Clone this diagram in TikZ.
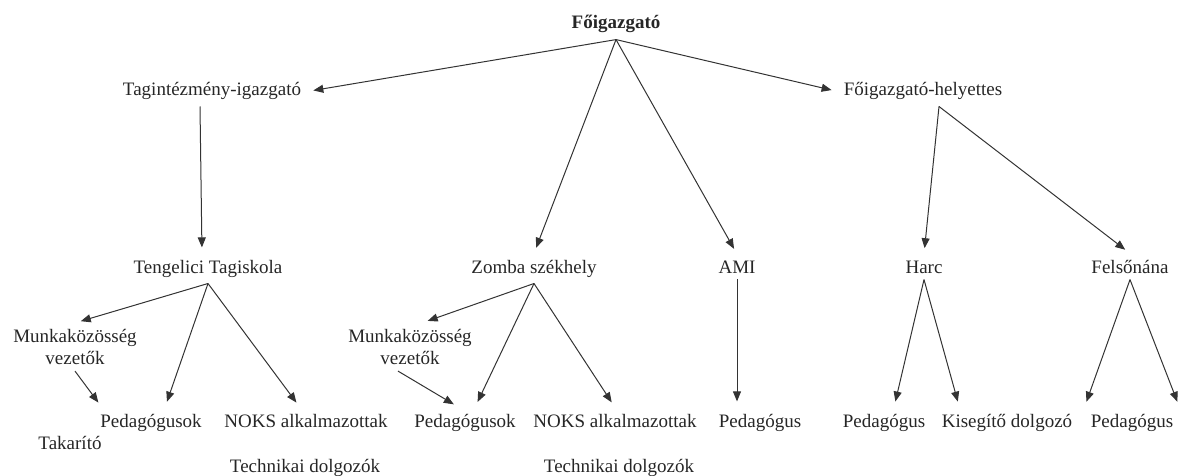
\documentclass[tikz,border=0pt]{standalone}
\usepackage{fontspec}
\setmainfont{Liberation Serif}
\usetikzlibrary{arrows.meta}

\begin{document}
\begin{tikzpicture}[x=0.5pt,y=-0.5pt,
  lbl/.style={inner sep=3pt, anchor=base, text=black!85, font=\fontsize{9.5}{11}\selectfont},
  arr/.style={line width=0.5pt, black!80, -{Triangle[length=5pt,width=4pt]}, shorten >=3pt}]
\useasboundingbox (0,0) rectangle (1184,476);
\begin{scope}[every node/.style={lbl}]
 \node[font=\fontsize{9.5}{11}\selectfont\bfseries] (fo) at (616,29) {Főigazgató};
 \node (tag) at (212,96) {Tagintézmény-igazgató};
 \node (fh) at (923,96) {Főigazgató-helyettes};

 \node (teng) at (208,273) {Tengelici Tagiskola};
 \node (zomba) at (534,273) {Zomba székhely};
 \node (ami) at (737,273) {AMI};
 \node (harc) at (924,273) {Harc};
 \node (fel) at (1130,273) {Felsőnána};

 \node[anchor=center, align=center] (mk1) at (75,347) {Munkaközösség\\vezetők};
 \node[anchor=center, align=center] (mk2) at (410,347) {Munkaközösség\\vezetők};

 \node (ped1) at (151,427) {Pedagógusok};
 \node (noks1) at (306,427) {NOKS alkalmazottak};
 \node (tak) at (70,449) {Takarító};
 \node (tech1) at (305,472) {Technikai dolgozók};

 \node (ped2) at (465,427) {Pedagógusok};
 \node (noks2) at (615,427) {NOKS alkalmazottak};
 \node (tech2) at (619,472) {Technikai dolgozók};

 \node (ped3) at (760,427) {Pedagógus};
 \node (ped4) at (884,427) {Pedagógus};
 \node (kis) at (1007,427) {Kisegítő dolgozó};
 \node (ped5) at (1132,427) {Pedagógus};


\draw[arr] (fo.south) -- (tag.east);
\draw[arr] (fo.south) -- (zomba.north);
\draw[arr] (fo.south) -- (ami.north);
\draw[arr] (fo.south) -- (fh.west);

\draw[arr] ([xshift=-6pt]tag.south) -- ([xshift=-3pt]teng.north);
\draw[arr] ([xshift=8pt]fh.south) -- (harc.north);
\draw[arr] ([xshift=8pt]fh.south) -- (fel.north);

\draw[arr] (teng.south) -- (mk1.north);
\draw[arr] (teng.south) -- ([xshift=7pt]ped1.north);
\draw[arr] (teng.south) -- ([xshift=-3pt]noks1.north);
\draw[arr] (mk1.south) -- ([xshift=4pt]ped1.north west);

\draw[arr] (zomba.south) -- ([xshift=6pt]mk2.north);
\draw[arr] (zomba.south) -- ([xshift=5pt]ped2.north);
\draw[arr] (zomba.south) -- (noks2.north);
\draw[arr] ([xshift=-6pt]mk2.south) -- ([xshift=-3pt]ped2.north);

\draw[arr] (ami.south) -- (ami.south |- ped3.north);

\draw[arr] (harc.south) -- ([xshift=5pt]ped4.north);
\draw[arr] (harc.south) -- ([xshift=12pt]kis.north west);

\draw[arr] (fel.south) -- (ped5.north west);
\draw[arr] (fel.south) -- (ped5.north east);
\end{scope}
\end{tikzpicture}
\end{document}
